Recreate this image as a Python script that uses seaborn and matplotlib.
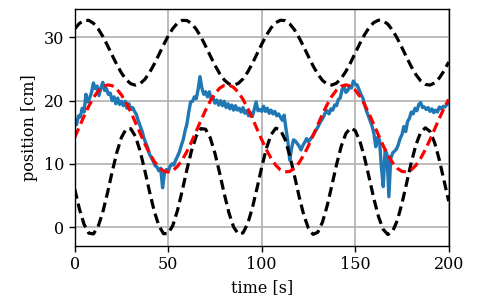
import numpy as np
import pandas as pd
import matplotlib
matplotlib.use("Agg")
import matplotlib.pyplot as plt
import seaborn as sns

# measured position (1 s steps)
t_meas = list(range(0, 201))
pos_meas = [
    16.8, 16.2, 17.6, 17.4, 18.8, 18.2, 21.0, 19.8, 20.4, 21.3,
    22.8, 21.9, 22.3, 20.8, 22.0, 22.9, 21.6, 21.9, 21.0, 21.2,
    20.0, 20.6, 19.5, 20.4, 19.4, 19.9, 19.2, 19.9, 18.8, 19.5,
    18.6, 18.9, 18.3, 17.8, 16.8, 16.0, 15.2, 14.1, 13.3, 12.6,
    11.5, 11.0, 10.4, 9.7, 9.5, 8.9, 9.3, 6.2, 8.6, 9.1,
    8.8, 9.6, 10.0, 9.8, 10.6, 11.2, 11.9, 12.9, 13.8, 15.2,
    16.3, 18.2, 19.8, 19.9, 20.6, 20.3, 21.8, 23.8, 22.0, 21.0,
    21.4, 20.6, 21.4, 20.2, 20.5, 19.6, 20.1, 19.3, 20.0, 19.2,
    19.9, 18.9, 19.5, 18.7, 19.3, 18.5, 19.2, 18.5, 18.8, 18.2,
    18.9, 18.0, 18.4, 17.6, 18.1, 17.5, 18.6, 19.8, 18.4, 18.6,
    18.3, 19.1, 18.3, 18.8, 18.0, 18.5, 17.9, 18.3, 17.6, 17.9,
    17.4, 16.9, 17.7, 15.5, 13.5, 10.6, 12.5, 13.8, 13.6, 13.2,
    12.8, 12.2, 12.9, 13.4, 14.0, 13.5, 13.9, 14.3, 14.8, 15.3,
    15.8, 16.4, 16.9, 17.4, 18.1, 18.4, 17.9, 18.7, 18.5, 19.3,
    19.2, 20.2, 20.4, 21.8, 22.2, 21.3, 21.6, 22.2, 22.0, 23.1,
    22.6, 22.5, 21.8, 21.0, 20.5, 19.4, 18.4, 17.6, 16.8, 16.0,
    14.8, 12.7, 14.2, 13.8, 9.5, 6.4, 12.2, 11.5, 4.8, 10.8,
    11.7, 12.0, 12.3, 13.0, 14.0, 14.6, 15.9, 15.1, 16.7, 17.2,
    18.2, 17.9, 18.8, 18.4, 19.4, 19.7, 18.9, 19.0, 18.6, 18.9,
    18.3, 18.7, 18.1, 18.5, 18.2, 19.0, 18.7, 19.1, 19.0, 19.4,
    19.5,
]

# dashed reference curves (2.5 s steps)
t_ref = [i * 2.5 for i in range(81)]
upper = [
    31.34, 32.22, 32.69, 32.70, 32.25, 31.39, 30.18, 28.75, 27.21, 25.71,
    24.38, 23.33, 22.67, 22.45, 22.69, 23.37, 24.43, 25.77, 27.27, 28.81,
    30.24, 31.43, 32.28, 32.70, 32.68, 32.20, 31.30, 30.08, 28.63, 27.09,
    25.60, 24.28, 23.27, 22.64, 22.45, 22.73, 23.44, 24.52, 25.88, 27.40,
    28.93, 30.34, 31.51, 32.33, 32.72, 32.66, 32.14, 31.22, 29.97, 28.51,
    26.97, 25.49, 24.19, 23.20, 22.61, 22.46, 22.77, 23.51, 24.62, 26.00,
    27.52, 29.05, 30.44, 31.59, 32.37, 32.73, 32.63, 32.08, 31.13, 29.86,
    28.39, 26.85, 25.38, 24.10, 23.14, 22.58, 22.46, 22.81, 23.59, 24.72,
    26.11,
]
lower = [
    6.02, 2.89, 0.44, -0.96, -1.09, 0.06, 2.33, 5.36, 8.68, 11.78,
    14.18, 15.51, 15.56, 14.33, 12.00, 8.94, 5.62, 2.55, 0.21, -1.05,
    -1.02, 0.28, 2.66, 5.75, 9.07, 12.11, 14.40, 15.58, 15.48, 14.10,
    11.67, 8.55, 5.23, 2.22, -0.01, -1.11, -0.93, 0.52, 3.01, 6.15,
    9.46, 12.44, 14.61, 15.64, 15.38, 13.86, 11.32, 8.15, 4.84, 1.90,
    -0.20, -1.16, -0.82, 0.77, 3.36, 6.55, 9.85, 12.75, 14.80, 15.68,
    15.26, 13.60, 10.96, 7.75, 4.46, 1.60, -0.38, -1.19, -0.69, 1.03,
    3.72, 6.95, 10.23, 13.04, 14.97, 15.70, 15.12, 13.33, 10.60, 7.35,
    4.09,
]
model = [
    14.16, 15.86, 17.54, 19.10, 20.45, 21.50, 22.20, 22.49, 22.37, 21.83,
    20.91, 19.67, 18.18, 16.54, 14.83, 13.18, 11.67, 10.40, 9.45, 8.87,
    8.70, 8.95, 9.61, 10.63, 11.95, 13.50, 15.17, 16.87, 18.49, 19.94,
    21.12, 21.97, 22.42, 22.47, 22.09, 21.32, 20.20, 18.80, 17.21, 15.52,
    13.83, 12.25, 10.88, 9.79, 9.05, 8.72, 8.80, 9.30, 10.18, 11.40,
    12.86, 14.49, 16.20, 17.86, 19.39, 20.69, 21.67, 22.29, 22.50, 22.29,
    21.67, 20.69, 19.39, 17.86, 16.20, 14.50, 12.86, 11.39, 10.18, 9.30,
    8.80, 8.72, 9.05, 9.79, 10.88, 12.25, 13.83, 15.51, 17.21, 18.80,
    20.20,
]

sns.set_theme(style="ticks")
plt.rcParams["font.family"] = ["DejaVu Serif"]

fig = plt.figure(figsize=(4.99, 3.08), dpi=100)
ax = fig.add_axes([0.1497, 0.2023, 0.7495, 0.7685])

meas = pd.DataFrame({"t": t_meas, "pos": pos_meas})
ref = pd.DataFrame({"t": t_ref, "upper": upper, "lower": lower, "model": model})

sns.lineplot(data=meas, x="t", y="pos", ax=ax, color="#1f77b4", lw=2.4)
for col, c in [("upper", "black"), ("lower", "black"), ("model", "red")]:
    sns.lineplot(data=ref, x="t", y=col, ax=ax, color=c, lw=2.3)
    ax.lines[-1].set_dashes([3.1, 1.6])

ax.set_xlim(0, 200)
ax.set_ylim(-2.95, 34.5)
ax.set_xticks([0, 50, 100, 150, 200])
ax.set_yticks([0, 10, 20, 30])
ax.grid(True, color="#b0b0b0", lw=1.2)
ax.set_axisbelow(True)
for s in ax.spines.values():
    s.set_color("black")
    s.set_linewidth(1.0)
ax.tick_params(axis="both", labelsize=11.5, colors="black", length=4, width=1)
ax.set_xlabel("time [s]", fontsize=11.5, color="black")
ax.set_ylabel("position [cm]", fontsize=11.5, color="black")

fig.savefig("out.png", dpi=100)
